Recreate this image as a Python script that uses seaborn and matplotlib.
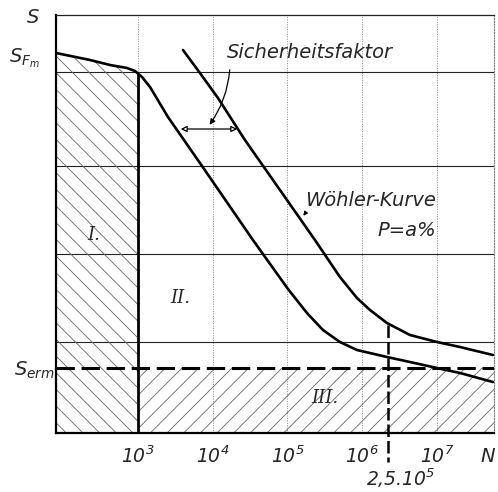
import numpy as np
import matplotlib
matplotlib.use("Agg")
import matplotlib.pyplot as plt
from matplotlib.ticker import NullLocator
import seaborn as sns

# ---- data (N = load cycles, S = stress, arbitrary units) ----
lower_N = [80, 228, 422, 713, 912, 1132, 1449, 2518, 6745, 34514, 101600, 182400,
           298500, 503500, 851000, 2143000, 4355000, 1.0e7, 2.032e7, 5.61e7]
lower_S = [3.80, 3.73, 3.68, 3.65, 3.62, 3.56, 3.46, 3.16, 2.70, 1.93, 1.44, 1.20,
           1.03, 0.91, 0.83, 0.76, 0.71, 0.65, 0.60, 0.51]
upper_N = [4000, 6745, 11750, 26980, 233300, 503500, 851000, 1270000, 2143000,
           4355000, 1.0e7, 2.03e7, 5.61e7]
upper_S = [3.83, 3.60, 3.35, 2.93, 1.93, 1.56, 1.35, 1.23, 1.10, 0.98, 0.91, 0.86, 0.78]

grid_S = [0.91, 1.79, 2.67, 3.61]
decades = [1e3, 1e4, 1e5, 1e6, 1e7]
tick_labels = [r"$10^3$", r"$10^4$", r"$10^5$", r"$10^6$", r"$10^7$"]
S_erm = 0.65
N_knee = 1e3
N_mark = 2.2e6
S_mark_top = 1.08
N_min, N_max = 80, 5.8e7
S_max = 4.18

sns.set_style("white")
plt.rcParams.update({
    "font.family": ["DejaVu Sans"],
    "mathtext.fontset": "custom",
    "mathtext.it": "DejaVu Sans:italic",
    "mathtext.rm": "DejaVu Sans:italic",
    "mathtext.default": "it",
    "hatch.linewidth": 0.6,
})

fig = plt.figure(figsize=(4.98, 4.92), dpi=100)
ax = fig.add_axes([56 / 498, 59 / 492, 438 / 498, 418 / 492])
ax.set_xscale("log")
ax.set_xlim(N_min, N_max)
ax.set_ylim(0, S_max)
ax.xaxis.set_minor_locator(NullLocator())

# grid
for d in decades:
    ax.axvline(d, color="#888888", lw=0.7, ls=(0, (1, 1.5)), zorder=1)
for s in grid_S:
    ax.axhline(s, color="#222222", lw=0.8, zorder=1)

# hatched regions
lN = np.array(lower_N, dtype=float)
lS = np.array(lower_S, dtype=float)
S_knee = np.interp(np.log10(N_knee), np.log10(lN), lS)
mask = lN <= N_knee
xI = np.append(lN[mask], N_knee)
yI = np.append(lS[mask], S_knee)
ax.fill_between(xI, 0, yI, facecolor="none", edgecolor="#666666", linewidth=0,
                hatch="\\\\", zorder=2)
ax.fill_between([N_knee, N_max], 0, S_erm, facecolor="none", edgecolor="#666666",
                linewidth=0, hatch="//", zorder=2)

# curves
sns.lineplot(x=lower_N, y=lower_S, ax=ax, color="black", lw=1.9,
             estimator=None, sort=False, zorder=4)
sns.lineplot(x=upper_N, y=upper_S, ax=ax, color="black", lw=1.9,
             estimator=None, sort=False, zorder=4)

# boundaries
ax.plot([N_knee, N_knee], [0, S_knee], color="black", lw=2.0, zorder=4)
ax.axhline(S_erm, color="black", lw=2.2, ls=(0, (6, 2.2)), zorder=4)
ax.plot([N_mark, N_mark], [S_mark_top, -0.29], color="black", lw=1.8,
        ls=(0, (5, 1.6)), clip_on=False, zorder=4)

# spines
for side in ["left", "bottom"]:
    ax.spines[side].set_linewidth(1.6)
    ax.spines[side].set_color("black")
ax.spines["top"].set_linewidth(0.9)
ax.spines["top"].set_color("#222222")
ax.spines["right"].set_linewidth(0.8)
ax.spines["right"].set_color("#777777")
ax.spines["right"].set_linestyle((0, (1, 1.5)))

# ticks
ax.set_xticks(decades, tick_labels)
ax.tick_params(axis="x", length=0, pad=9, labelsize=13.5)
ax.set_yticks([])
ax.set_xlabel("")
ax.set_ylabel("")

tf = ax.get_yaxis_transform()
fs = 14
ax.text(-0.052, 4.15, "S", transform=tf, ha="center", va="center", fontsize=fs,
        style="italic", clip_on=False)
ax.text(-0.071, 3.75, r"$S_{F_m}$", transform=tf, ha="center", va="center",
        fontsize=fs, clip_on=False)
ax.text(-0.003, 0.63, r"$S_{erm}$", transform=tf, ha="right", va="center",
        fontsize=fs, clip_on=False)
ax.text(0.986, -0.24, "N", transform=tf, ha="center", va="center", fontsize=fs,
        style="italic", clip_on=False)
ax.text(3.3e6, -0.45, r"$2{,}5.10^5$", ha="center", va="center", fontsize=13.5,
        clip_on=False)

# region labels
serif = dict(family="DejaVu Serif", style="italic", fontsize=13)
ax.text(257, 1.98, "I.", ha="center", va="center", **serif)
ax.text(3630, 1.35, "II.", ha="center", va="center", **serif)
ax.text(3.16e5, 0.35, "III.", ha="center", va="center", **serif)

# annotations
ax.text(1.55e4, 3.80, "Sicherheitsfaktor", ha="left", va="center", fontsize=fs,
        style="italic")
ax.annotate("", xy=(8630, 3.06), xytext=(1.7e4, 3.66),
            arrowprops=dict(arrowstyle="-|>", color="black", lw=0.9,
                            mutation_scale=8,
                            connectionstyle="arc3,rad=-0.15"))
ax.annotate("", xy=(3430, 3.04), xytext=(2.32e4, 3.04),
            arrowprops=dict(arrowstyle="<|-|>", color="black", lw=0.9,
                            mutation_scale=9, fc="white"))
ax.text(9.8e6, 2.33, "Wöhler-Kurve", ha="right", va="center", fontsize=fs,
        style="italic")
ax.text(9.8e6, 2.03, "P=a%", ha="right", va="center", fontsize=fs,
        style="italic")
ax.annotate("", xy=(1.55e5, 2.15), xytext=(1.82e5, 2.22),
            arrowprops=dict(arrowstyle="-|>", color="black", lw=0.8,
                            mutation_scale=6))

fig.savefig("out.png", dpi=100, facecolor="white")
